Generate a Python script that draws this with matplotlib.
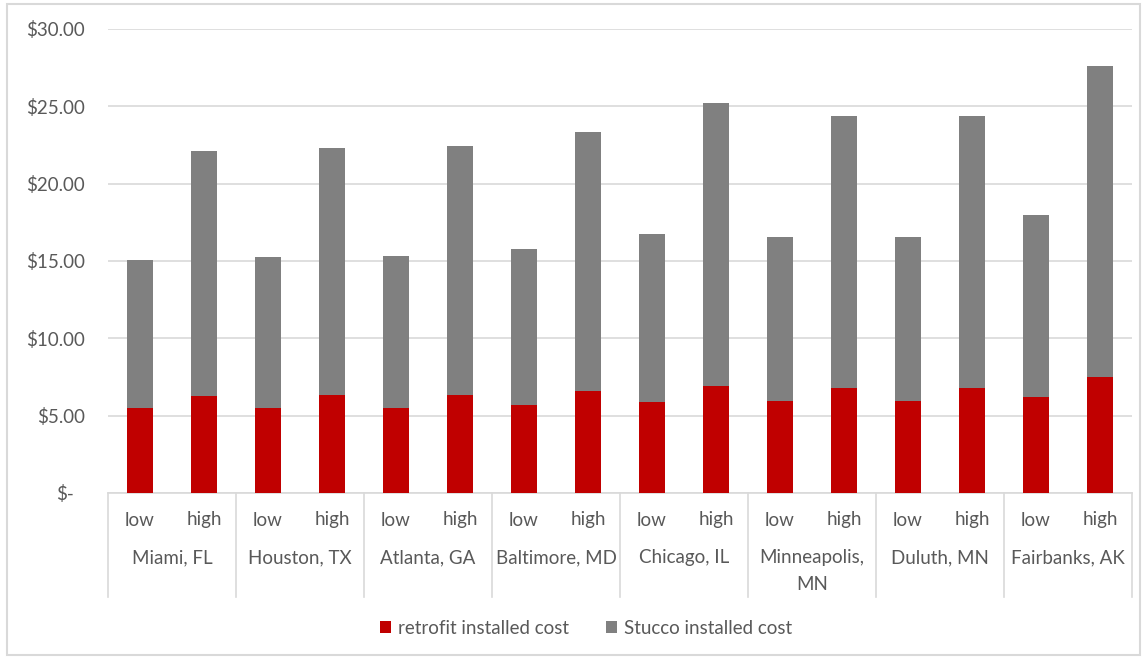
import matplotlib
matplotlib.use("Agg")
import matplotlib.pyplot as plt
from matplotlib.patches import Rectangle
from matplotlib.transforms import ScaledTranslation
import numpy as np

cities = ["Miami, FL", "Houston, TX", "Atlanta, GA", "Baltimore, MD", "Chicago, IL",
          "Minneapolis,\nMN", "Duluth, MN", "Fairbanks, AK"]
levels = ["low", "high"]
retrofit = [5.49, 6.27, 5.49, 6.33, 5.50, 6.33, 5.69, 6.59,
            5.88, 6.92, 5.95, 6.79, 5.95, 6.79, 6.20, 7.50]
total = [15.06, 22.10, 15.25, 22.30, 15.32, 22.43, 15.77, 23.34,
         16.74, 25.21, 16.55, 24.37, 16.55, 24.37, 17.97, 27.60]
stucco = [t - r for t, r in zip(total, retrofit)]
yticks = [0, 5, 10, 15, 20, 25, 30]
ytick_labels = ["$-", "$5.00", "$10.00", "$15.00", "$20.00", "$25.00", "$30.00"]

plt.rcParams['font.family'] = ['Lato', 'DejaVu Sans']
txt = "#595959"
grid = "#d9d9d9"
fs = 13.5

fig = plt.figure(figsize=(11.44, 6.58), dpi=100)
W, H = 1144, 658
ax = fig.add_axes([108 / W, 1 - 493 / H, (1132 - 108) / W, (493 - 29) / H])

x = np.arange(len(retrofit))
ax.bar(x, retrofit, width=0.42, color="#c00000", label="retrofit installed cost", zorder=3)
ax.bar(x, stucco, width=0.42, bottom=retrofit, color="#808080", label="Stucco installed cost", zorder=3)

ax.set_xlim(-0.5, len(retrofit) - 0.5)
ax.set_ylim(0, 30)
ax.set_yticks(yticks)
ax.set_yticklabels(ytick_labels, color=txt, fontsize=fs)
ax.tick_params(axis='y', length=0, pad=16.5)
ylabs = ax.get_yticklabels()
ylabs[0].set_transform(ylabs[0].get_transform() + ScaledTranslation(-0.11, 0, fig.dpi_scale_trans))
ax.set_xticks([])
ax.yaxis.grid(True, color=grid, lw=1.2, zorder=0)
for s in ["left", "right", "top"]:
    ax.spines[s].set_visible(False)
ax.spines["bottom"].set_color(grid)
ax.spines["bottom"].set_linewidth(1.2)

trans = ax.get_xaxis_transform()
# sub-category labels
for i in range(len(retrofit)):
    ax.text(i, -27 / 464, levels[i % 2], transform=trans, ha="center", va="center",
            color=txt, fontsize=fs)
# group labels and separators
for g, c in enumerate(cities):
    xc = 2 * g + 0.5
    for k, line in enumerate(c.split("\n")):
        ax.text(xc, (-65 - 26 * k) / 464, line, transform=trans, ha="center", va="center",
                color=txt, fontsize=fs)
for b in range(len(cities) + 1):
    xb = 2 * b - 0.5
    ax.plot([xb, xb], [0, -104 / 464], transform=trans, color=grid, lw=1.2,
            clip_on=False)

leg = fig.legend(loc="center", bbox_to_anchor=(586 / W, 1 - 628 / H), ncol=2,
                 frameon=False, fontsize=fs, handlelength=0.6, handleheight=0.6,
                 handletextpad=0.35, columnspacing=2.0)
for t in leg.get_texts():
    t.set_color(txt)

fig.patches.append(Rectangle((7 / W, 1 - 655 / H), (1140 - 7) / W, (655 - 4) / H,
                             transform=fig.transFigure, fill=False, edgecolor=grid, lw=1.5))

fig.savefig("out.png", dpi=100)
